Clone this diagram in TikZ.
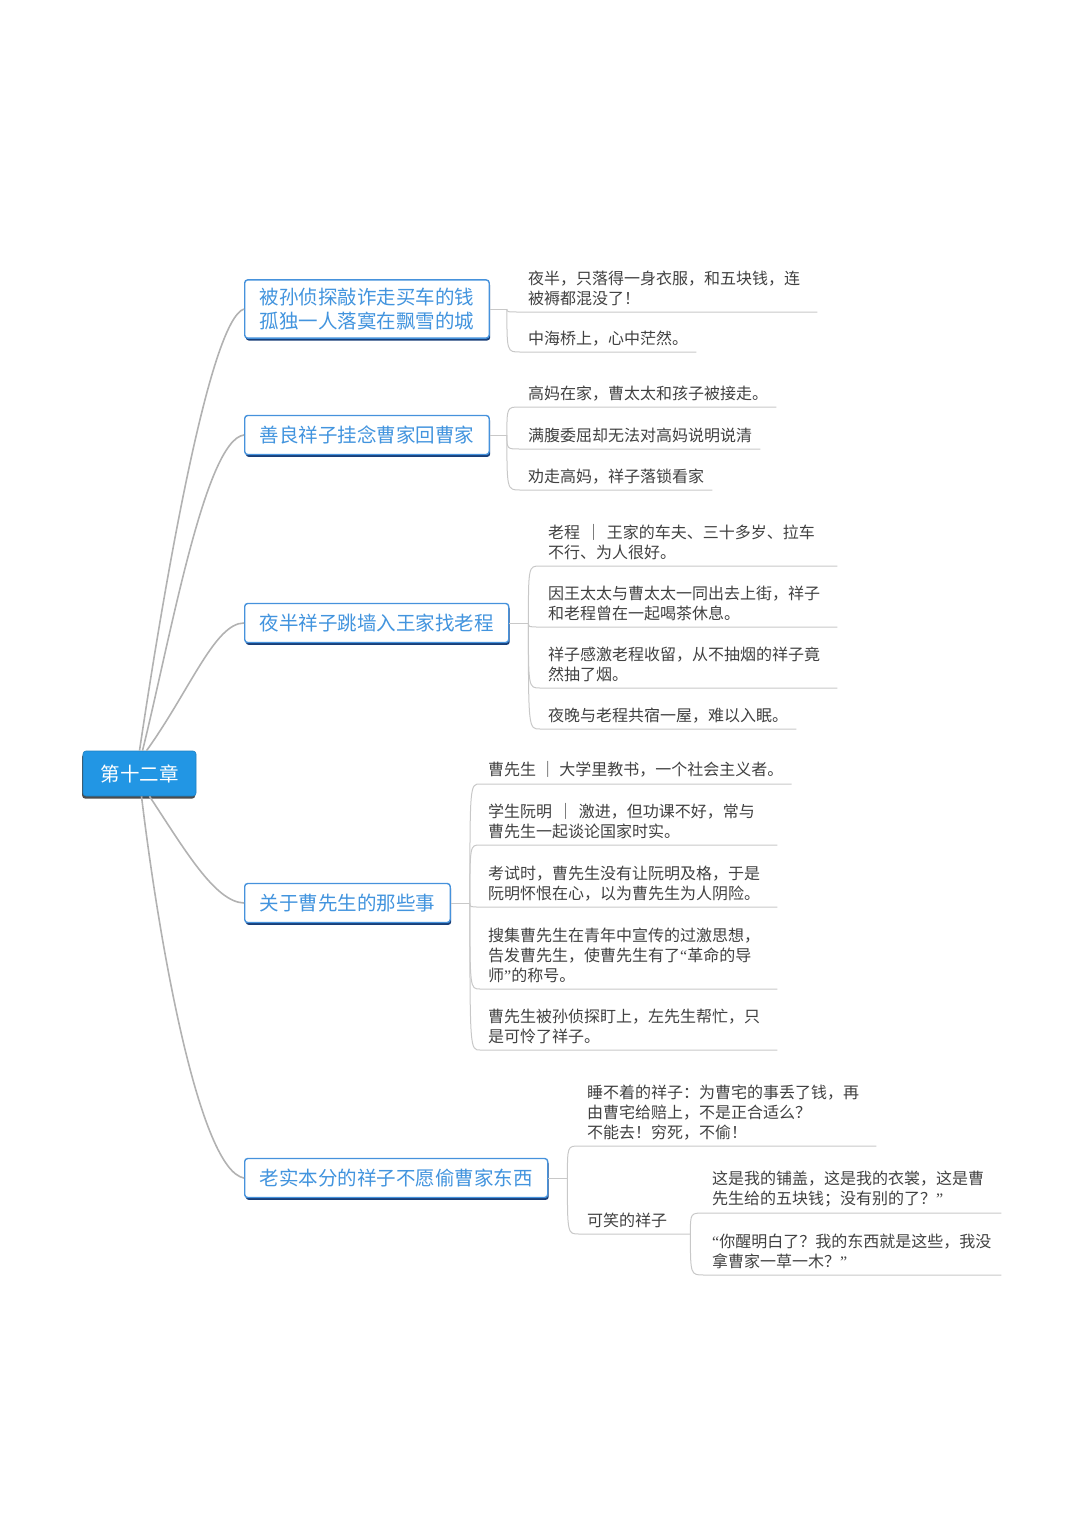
\documentclass[tikz,border=0pt]{standalone}
\usepackage{fontspec}
\setmainfont{Noto Sans CJK SC}
\newfontfamily\quotefont{Liberation Serif}
\usetikzlibrary{positioning,shadows}

\definecolor{rootblue}{RGB}{34,150,228}
\definecolor{topicblue}{RGB}{70,146,220}
\definecolor{topicnavy}{RGB}{24,62,120}
\definecolor{topictext}{RGB}{66,148,222}
\definecolor{limbgray}{RGB}{178,178,178}
\definecolor{twiggray}{RGB}{200,200,200}
\definecolor{leaftext}{RGB}{64,64,64}

\begin{document}
\begin{tikzpicture}[
 x=1pt,y=-1pt,
 chapter/.style={
  rectangle,
  rounded corners=3pt,
  fill=rootblue,
  draw=rootblue!85!black,
  line width=0.6pt,
  text=white,
  minimum width=113pt,
  minimum height=45pt,
  font=\fontsize{19.5pt}{24pt}\selectfont,
  drop shadow={shadow xshift=-0.8pt,shadow yshift=-2.6pt,fill=black!70,opacity=1}
 },
 topic/.style={
  rectangle,
  rounded corners=3pt,
  fill=white,
  draw=topicblue,
  line width=1.4pt,
  text=topictext,
  align=left,
  inner xsep=15pt,
  inner ysep=8pt,
  minimum height=39pt,
  anchor=west,
  font=\fontsize{19.5pt}{24pt}\selectfont,
  drop shadow={shadow xshift=1pt,shadow yshift=-2.4pt,fill=topicnavy,opacity=1}
 },
 leaf/.style={
  anchor=south west,
  align=left,
  text=leaftext,
  inner xsep=8pt,
  inner ysep=6pt,
  font=\fontsize{16pt}{20pt}\selectfont
 },
 wrap/.style={text width=281pt},
 limb/.style={draw=limbgray,line width=1.6pt},
 twig/.style={draw=twiggray,line width=1pt}
]
 \useasboundingbox (0,0) rectangle (1080,1534);

 % chapter and its five topics
 \node[chapter] (root) at (139.5,773.5) {第十二章};
 \node[topic] (b1) at (244,309) {被孙侦探敲诈走买车的钱\\孤独一人落寞在飘雪的城};
 \node[topic] (b2) at (244,435) {善良祥子挂念曹家回曹家};
 \node[topic] (b3) at (244,623) {夜半祥子跳墙入王家找老程};
 \node[topic] (b4) at (244,903) {关于曹先生的那些事};
 \node[topic] (b5) at (244,1178) {老实本分的祥子不愿偷曹家东西};

 \draw[limb] (root.north) .. controls (165,580) and (210,320) .. (b1.west);
 \draw[limb] ([xshift=3pt]root.north) .. controls (170,640) and (205,440) .. (b2.west);
 \draw[limb] ([xshift=7pt]root.north) .. controls (190,690) and (215,623) .. (b3.west);
 \draw[limb] ([xshift=10pt]root.south) .. controls (185,850) and (215,902) .. (b4.west);
 \draw[limb] ([xshift=2pt]root.south) .. controls (160,950) and (200,1170) .. (b5.west);

 % topic 1
 \coordinate (j1) at ([xshift=17pt]b1.east);
 \node[leaf,wrap] (l11) at (520,312)
  {夜半，只落得一身衣服，和五块钱，连\\被褥都混没了！};
 \node[leaf] (l12) at (520,352) {中海桥上，心中茫然。};
 \draw[twig] (b1.east) -- (j1);
 \draw[twig] (j1) .. controls (j1 |- l11.south west) .. (l11.south west) -- (l11.south east);
 \draw[twig] (j1) .. controls (j1 |- l12.south west) .. (l12.south west) -- (l12.south east);

 % topic 2
 \coordinate (j2) at ([xshift=17pt]b2.east);
 \node[leaf] (l21) at (520,407) {高妈在家，曹太太和孩子被接走。};
 \node[leaf] (l22) at (520,449) {满腹委屈却无法对高妈说明说清};
 \node[leaf] (l23) at (520,490) {劝走高妈，祥子落锁看家};
 \draw[twig] (b2.east) -- (j2);
 \draw[twig] (j2) .. controls (j2 |- l21.south west) .. (l21.south west) -- (l21.south east);
 \draw[twig] (j2) .. controls (j2 |- l22.south west) .. (l22.south west) -- (l22.south east);
 \draw[twig] (j2) .. controls (j2 |- l23.south west) .. (l23.south west) -- (l23.south east);

 % topic 3
 \coordinate (j3) at ([xshift=19pt]b3.east);
 \node[leaf,wrap] (l31) at (540,566)
  {老程 ｜ 王家的车夫、三十多岁、拉车\\不行、为人很好。};
 \node[leaf,wrap] (l32) at (540,627)
  {因王太太与曹太太一同出去上街，祥子\\和老程曾在一起喝茶休息。};
 \node[leaf,wrap] (l33) at (540,688)
  {祥子感激老程收留，从不抽烟的祥子竟\\然抽了烟。};
 \node[leaf] (l34) at (540,729) {夜晚与老程共宿一屋，难以入眠。};
 \draw[twig] (b3.east) -- (j3);
 \draw[twig] (j3) .. controls (j3 |- l31.south west) .. (l31.south west) -- (l31.south east);
 \draw[twig] (j3) .. controls (j3 |- l32.south west) .. (l32.south west) -- (l32.south east);
 \draw[twig] (j3) .. controls (j3 |- l33.south west) .. (l33.south west) -- (l33.south east);
 \draw[twig] (j3) .. controls (j3 |- l34.south west) .. (l34.south west) -- (l34.south east);

 % topic 4
 \coordinate (j4) at ([xshift=19pt]b4.east);
 \node[leaf] (l41) at (480,784) {曹先生 ｜ 大学里教书，一个社会主义者。};
 \node[leaf,wrap] (l42) at (480,845)
  {学生阮明 ｜ 激进，但功课不好，常与\\曹先生一起谈论国家时实。};
 \node[leaf,wrap] (l43) at (480,907)
  {考试时，曹先生没有让阮明及格，于是\\阮明怀恨在心，以为曹先生为人阴险。};
 \node[leaf,wrap] (l44) at (480,989)
  {搜集曹先生在青年中宣传的过激思想，\\告发曹先生，使曹先生有了{\quotefont “}革命的导\\师{\quotefont ”}的称号。};
 \node[leaf,wrap] (l45) at (480,1050)
  {曹先生被孙侦探盯上，左先生帮忙，只\\是可怜了祥子。};
 \draw[twig] (b4.east) -- (j4);
 \draw[twig] (j4) .. controls (j4 |- l41.south west) .. (l41.south west) -- (l41.south east);
 \draw[twig] (j4) .. controls (j4 |- l42.south west) .. (l42.south west) -- (l42.south east);
 \draw[twig] (j4) .. controls (j4 |- l43.south west) .. (l43.south west) -- (l43.south east);
 \draw[twig] (j4) .. controls (j4 |- l44.south west) .. (l44.south west) -- (l44.south east);
 \draw[twig] (j4) .. controls (j4 |- l45.south west) .. (l45.south west) -- (l45.south east);

 % topic 5
 \coordinate (j5) at ([xshift=19pt]b5.east);
 \node[leaf,wrap] (l51) at (579,1146)
  {睡不着的祥子：为曹宅的事丢了钱，再\\由曹宅给赔上，不是正合适么？\\不能去！穷死，不偷！};
 \node[leaf,text width=95pt] (l52) at (579,1234) {可笑的祥子};
 \node[leaf,wrap] (l521) at (704,1213)
  {这是我的铺盖，这是我的衣裳，这是曹\\先生给的五块钱；没有别的了？{\quotefont ”}};
 \node[leaf,wrap] (l522) at (704,1275)
  {{\quotefont “}你醒明白了？我的东西就是这些，我没\\拿曹家一草一木？{\quotefont ”}};
 \draw[twig] (b5.east) -- (j5);
 \draw[twig] (j5) .. controls (j5 |- l51.south west) .. (l51.south west) -- (l51.south east);
 \draw[twig] (j5) .. controls (j5 |- l52.south west) .. (l52.south west) -- (l52.south east);
 \draw[twig] (l52.south east) .. controls (l52.south east |- l521.south west) .. (l521.south west) -- (l521.south east);
 \draw[twig] (l52.south east) .. controls (l52.south east |- l522.south west) .. (l522.south west) -- (l522.south east);
\end{tikzpicture}
\end{document}
